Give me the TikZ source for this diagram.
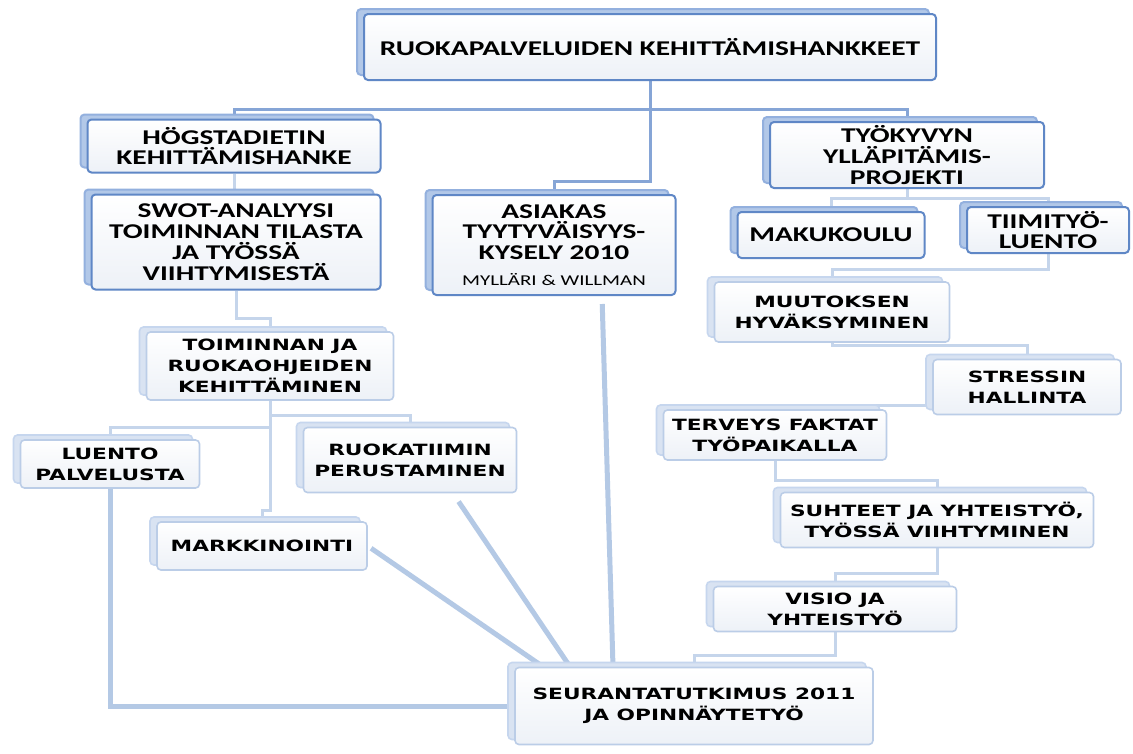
\documentclass[tikz,border=0pt]{standalone}
\usepackage{fontspec}
\newfontfamily\calib{Carlito}[FakeStretch=1.4]
\newfontfamily\verd{DejaVu Sans}[FakeStretch=1.4]
\usetikzlibrary{shadows,backgrounds}
\definecolor{frameup}{HTML}{5F87C6}
\definecolor{backup}{HTML}{B2C8E8}
\definecolor{backupline}{HTML}{93B0DE}
\definecolor{framelow}{HTML}{BBCDE7}
\definecolor{backlow}{HTML}{D9E3F2}
\definecolor{backlowline}{HTML}{C6D6EE}
\definecolor{boxbot}{HTML}{EDF1F7}
\definecolor{linkdark}{HTML}{86A5D6}
\definecolor{linklight}{HTML}{C5D5EB}
\definecolor{linkthick}{HTML}{B4C9E5}

\tikzset{
  wh/.style 2 args={minimum width=#1pt, minimum height=#2pt},
  upbox/.style={rectangle, rounded corners=4pt, draw=frameup, line width=2pt,
    top color=white, bottom color=boxbot, inner sep=0pt, align=center,
    general shadow={fill=backup, draw=backupline, shadow xshift=-7pt, shadow yshift=5pt},
    font=\calib\bfseries\fontsize{21}{20.8}\selectfont},
  lowbox/.style={rectangle, rounded corners=4pt, draw=framelow, line width=1.6pt,
    top color=white, bottom color=boxbot, inner sep=0pt, align=center,
    general shadow={fill=backlow, draw=backlowline, shadow xshift=-7pt, shadow yshift=5pt},
    font=\verd\bfseries\fontsize{15.5}{20.8}\selectfont},
  linkup/.style={draw=linkdark, line width=3pt},
  linklow/.style={draw=linklight, line width=3pt},
  thicklink/.style={draw=linkthick, line width=5pt}
}

\begin{document}
\begin{tikzpicture}[x=1pt, y=-1pt]
\useasboundingbox (0,0) rectangle (1133,753);

% === Main project ===
\node[upbox, wh={572}{66}] (top) at (650,47) {RUOKAPALVELUIDEN KEHITTÄMISHANKKEET};

% === Left branch ===
\node[upbox, wh={293}{53}] (hog) at (234,146) {HÖGSTADIETIN\\KEHITTÄMISHANKE};
\node[upbox, wh={289}{95}] (swot) at (236,242) {SWOT-ANALYYSI\\TOIMINNAN TILASTA\\JA TYÖSSÄ\\VIIHTYMISESTÄ};
\node[lowbox, wh={247}{68}] (toim) at (270,366) {TOIMINNAN JA\\RUOKAOHJEIDEN\\KEHITTÄMINEN};
\node[lowbox, wh={179}{48}] (luento) at (110,464) {LUENTO\\PALVELUSTA};
\node[lowbox, wh={213}{65}] (ruoka) at (410,460) {RUOKATIIMIN\\PERUSTAMINEN};
\node[lowbox, wh={210}{48}] (markk) at (262,546) {MARKKINOINTI};

% === Middle ===
\node[upbox, wh={243}{100}] (asiakas) at (554,245) {ASIAKAS\\TYYTYVÄISYYS-\\KYSELY 2010\\[5pt]{\mdseries\fontsize{15}{15}\selectfont MYLLÄRI \& WILLMAN}};

% === Right branch ===
\node[upbox, wh={274}{66}] (tyok) at (907,155) {TYÖKYVYN\\YLLÄPITÄMIS-\\PROJEKTI};
\node[upbox, wh={187}{46}] (maku) at (831,235) {MAKUKOULU};
\node[upbox, wh={162}{46}] (tiimi) at (1048,230) {TIIMITYÖ-\\LUENTO};
\node[lowbox, wh={235}{60}] (muutos) at (832,312) {MUUTOKSEN\\HYVÄKSYMINEN};
\node[lowbox, wh={188}{55}] (stress) at (1027,387) {STRESSIN\\HALLINTA};
\node[lowbox, wh={223}{50}] (terveys) at (775,435) {TERVEYS FAKTAT\\TYÖPAIKALLA};
\node[lowbox, wh={313}{55}] (suhteet) at (937,520) {SUHTEET JA YHTEISTYÖ,\\TYÖSSÄ VIIHTYMINEN};
\node[lowbox, wh={243}{45}] (visio) at (835,609) {VISIO JA\\YHTEISTYÖ};

% === Follow-up ===
\node[lowbox, wh={358}{77}] (seur) at (694,706) {SEURANTATUTKIMUS 2011\\JA OPINNÄYTETYÖ};

% === Connectors ===
\begin{scope}[on background layer]
\fill[white] (0,0) rectangle (1133,753);
\draw[linkup] (top.south) -- ++(0,28) -| (hog.north);
\draw[linkup] (top.south) -- ++(0,28) -| (tyok.north);
\draw[linkup] (top.south) -- ++(0,100) -| (asiakas.north);
\draw[linklow] (hog.south) -- (hog.south |- swot.north);
\draw[linklow] (swot.south) -- ++(0,28) -| (toim.north);
\draw[linklow] (toim.south) -- ++(0,15) -| (ruoka.north);
\draw[linklow] (toim.south) -- ++(0,27) -| (luento.north);
\draw[linklow] (toim.south) -- ++(0,110) -| (markk.north);
\draw[linklow] (tyok.south) -- ++(0,9) -| (maku.north);
\draw[linklow] (tyok.south) -- ++(0,9) -| (tiimi.north);
\draw[linklow] (tiimi.south) -- ++(0,15) -| (muutos.north);
\draw[linklow] (muutos.south) -- ++(0,3) -| (stress.north);
\draw[linklow] ([yshift=-18pt]stress.west) -| ([xshift=-13pt]terveys.north east);
\draw[linklow] (terveys.south) -- ++(0,20) -| (suhteet.north);
\draw[linklow] (suhteet.south) -- ++(0,25) -| (visio.north);
\draw[linklow] (visio.south) -- ++(0,23) -| (seur.north);
% thick lines into the follow-up study
\draw[thicklink] (luento.south) |- (seur.west);
\draw[thicklink, shorten <=4pt] (markk.east) -- ([xshift=-151pt]seur.north);
\draw[thicklink, shorten <=10pt] ([xshift=43pt]ruoka.south) -- ([xshift=-124pt]seur.north);
\draw[thicklink, shorten <=8pt] ([xshift=48pt]asiakas.south) -- ([xshift=-81pt]seur.north);
\end{scope}

\end{tikzpicture}
\end{document}
